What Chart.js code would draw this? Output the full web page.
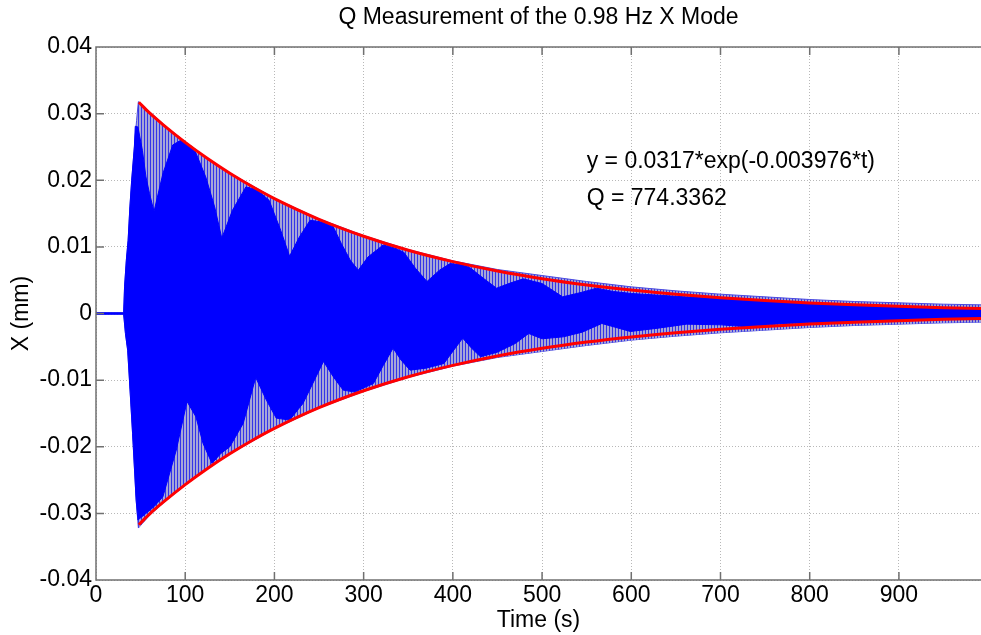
<!DOCTYPE html>
<html>
<head>
<meta charset="utf-8">
<title>Q Measurement of the 0.98 Hz X Mode</title>
<script src="https://cdn.jsdelivr.net/npm/chart.js@4.4.1/dist/chart.umd.min.js"></script>
<style>
    html, body { margin: 0; padding: 0; background: #fff; }
    #wrap { width: 981px; height: 635px; }
</style>
</head>
<body>
<div id="wrap"><canvas id="qChart" width="981" height="635"></canvas></div>
<script>
// axis ticks
const xTicks = [0, 100, 200, 300, 400, 500, 600, 700, 800, 900];
const yTicks = [-0.04, -0.03, -0.02, -0.01, 0, 0.01, 0.02, 0.03, 0.04];

// outer extent of the ring-down signal (tips of the oscillation)
const outerHiT = [0, 31, 32, 34, 36, 38, 40, 43, 45.5, 47.5, 60, 80, 100, 125, 150, 200, 250, 300, 350, 400, 450, 500, 550, 600, 650, 700, 750, 800, 850, 900, 950, 992];
const outerHiV = [0.0001, 0.0001, 0.004, 0.008, 0.011, 0.016, 0.020, 0.025, 0.029, 0.0318, 0.0303, 0.0279, 0.0258, 0.0233, 0.0211, 0.0173, 0.0142, 0.0117, 0.0096, 0.0079, 0.0066, 0.0057, 0.0048, 0.0040, 0.0034, 0.0029, 0.0025, 0.0021, 0.0018, 0.0016, 0.0014, 0.0013];
const outerLoT = [0, 31, 33, 35.5, 37.5, 41, 45, 47.5, 60, 80, 100, 125, 150, 200, 250, 300, 350, 400, 450, 500, 550, 600, 650, 700, 750, 800, 850, 900, 950, 992];
const outerLoV = [-0.0001, -0.0001, -0.003, -0.0055, -0.010, -0.018, -0.028, -0.0322, -0.0303, -0.0279, -0.0258, -0.0233, -0.0211, -0.0173, -0.0142, -0.0117, -0.0096, -0.0079, -0.0066, -0.0057, -0.0048, -0.0040, -0.0034, -0.0029, -0.0025, -0.0021, -0.0018, -0.0016, -0.0014, -0.0013];

// solid core of the signal (beat lobes)
const coreHiT = [0, 31, 32, 34, 36, 38, 40, 43, 44, 47, 52, 56, 60, 65, 75, 86, 95, 101, 112, 123, 133, 141, 153, 168, 180, 194, 207, 217, 228, 240, 255, 266, 275, 285, 294, 305, 322, 335, 345, 358, 371, 385, 397, 410, 419, 435, 449, 465, 479, 500, 523, 545, 561, 580, 600, 636, 660, 700, 750, 800, 850, 900, 950, 992];
const coreHiV = [0.0001, 0.0001, 0.004, 0.008, 0.011, 0.016, 0.020, 0.025, 0.0281, 0.028, 0.0245, 0.0205, 0.018, 0.0153, 0.021, 0.0253, 0.0260, 0.0257, 0.0241, 0.0205, 0.016, 0.0113, 0.0155, 0.019, 0.0186, 0.017, 0.0125, 0.0086, 0.0115, 0.014, 0.0137, 0.013, 0.0105, 0.008, 0.0065, 0.0085, 0.0103, 0.0098, 0.0092, 0.0068, 0.0048, 0.0065, 0.0075, 0.0073, 0.0069, 0.0052, 0.0038, 0.0046, 0.0052, 0.0045, 0.0025, 0.0032, 0.0038, 0.0033, 0.0030, 0.0027, 0.0025, 0.0022, 0.0018, 0.0015, 0.0013, 0.0011, 0.0009, 0.0008];
const coreLoT = [0, 31, 33, 35.5, 37.5, 41, 45, 47, 56, 65, 75, 90, 102, 112, 120, 130, 140, 150, 165, 179, 191, 202, 217, 232, 243, 255, 266, 277, 290, 311, 322, 333, 342, 352, 370, 390, 401, 411, 421, 431, 450, 470, 485, 500, 524, 545, 567, 599, 630, 662, 700, 730, 770, 800, 850, 900, 950, 992];
const coreLoV = [-0.0001, -0.0001, -0.003, -0.0055, -0.010, -0.018, -0.028, -0.031, -0.030, -0.029, -0.0275, -0.0205, -0.0132, -0.0155, -0.0195, -0.0225, -0.021, -0.020, -0.0165, -0.0096, -0.013, -0.0157, -0.016, -0.0135, -0.0105, -0.0072, -0.0095, -0.0115, -0.0118, -0.0105, -0.0078, -0.0052, -0.007, -0.0085, -0.0082, -0.0075, -0.0055, -0.0037, -0.0052, -0.0065, -0.0058, -0.0045, -0.003, -0.0038, -0.0035, -0.0028, -0.0015, -0.0027, -0.0022, -0.0016, -0.0017, -0.0020, -0.0015, -0.0014, -0.0012, -0.0010, -0.0009, -0.0008];

// exponential envelope fit (red)
const fitT = [48, 60, 75, 100, 125, 150, 175, 200, 250, 300, 350, 400, 450, 500, 550, 600, 650, 700, 750, 800, 850, 900, 950, 992];
const fitHi = [0.0317, 0.0301, 0.02836, 0.02568, 0.02325, 0.02105, 0.01906, 0.01725, 0.01414, 0.0116, 0.0095, 0.00779, 0.00638, 0.00523, 0.00429, 0.00352, 0.00288, 0.00236, 0.00194, 0.00159, 0.0013, 0.00107, 0.00087, 0.00074];
const fitLo = [-0.0317, -0.0301, -0.02836, -0.02568, -0.02325, -0.02105, -0.01906, -0.01725, -0.01414, -0.0116, -0.0095, -0.00779, -0.00638, -0.00523, -0.00429, -0.00352, -0.00288, -0.00236, -0.00194, -0.00159, -0.0013, -0.00107, -0.00087, -0.00074];

const titleText = 'Q Measurement of the 0.98 Hz X Mode';
const noteX = 550;
const noteY = [0.02275, 0.0172];
const noteLines = ['y = 0.0317*exp(-0.003976*t)', 'Q = 774.3362'];

const FONT = '"Liberation Sans", Arial, Helvetica, sans-serif';

function pts(ts, vs) {
    return ts.map((t, i) => ({ x: t, y: vs[i] }));
}

// vertical hatch for the thin oscillation tips
function makeStripes() {
    const c = document.createElement('canvas');
    c.width = 3;
    c.height = 1;
    const g = c.getContext('2d');
    g.fillStyle = '#a6a6d8';
    g.fillRect(0, 0, 3, 1);
    g.fillStyle = '#3434e8';
    g.fillRect(0, 0, 1, 1);
    return g.createPattern(c, 'repeat');
}

const framePlugin = {
    id: 'frame',
    afterDatasetsDraw(chart) {
        const { ctx, chartArea: a, scales: { x, y } } = chart;
        ctx.save();
        ctx.strokeStyle = '#707070';
        ctx.lineWidth = 1.5;
        ctx.beginPath();
        ctx.moveTo(a.right, a.top);
        ctx.lineTo(a.left, a.top);
        ctx.lineTo(a.left, a.bottom);
        ctx.lineTo(a.right, a.bottom);
        x.ticks.forEach(t => {
            const px = x.getPixelForValue(t.value);
            ctx.moveTo(px, a.bottom);
            ctx.lineTo(px, a.bottom - 8);
            ctx.moveTo(px, a.top);
            ctx.lineTo(px, a.top + 8);
        });
        y.ticks.forEach(t => {
            const py = y.getPixelForValue(t.value);
            ctx.moveTo(a.left, py);
            ctx.lineTo(a.left + 8, py);
        });
        ctx.stroke();
        ctx.restore();
    },
    afterDraw(chart) {
        const { ctx, chartArea: a, scales: { x, y } } = chart;
        ctx.save();
        ctx.fillStyle = '#000';
        ctx.font = '23px ' + FONT;
        ctx.textBaseline = 'middle';
        ctx.textAlign = 'center';
        ctx.fillText(titleText, (a.left + a.right) / 2, 18);
        ctx.textAlign = 'left';
        noteLines.forEach((s, i) => {
            ctx.fillText(s, x.getPixelForValue(noteX), y.getPixelForValue(noteY[i]));
        });
        ctx.restore();
    }
};

document.addEventListener('DOMContentLoaded', function() {
    const ctx = document.getElementById('qChart').getContext('2d');
    const stripes = makeStripes();

    new Chart(ctx, {
        type: 'line',
        data: {
            datasets: [
                {
                    data: pts(outerHiT, outerHiV),
                    borderColor: '#4a4ae0',
                    borderWidth: 1,
                    backgroundColor: stripes,
                    fill: '+1',
                    tension: 0,
                    order: 2
                },
                {
                    data: pts(outerLoT, outerLoV),
                    borderColor: '#4a4ae0',
                    borderWidth: 1,
                    fill: false,
                    tension: 0,
                    order: 2
                },
                {
                    data: pts(coreHiT, coreHiV),
                    borderColor: '#0000ff',
                    borderWidth: 1,
                    backgroundColor: '#0000ff',
                    fill: '+1',
                    tension: 0,
                    order: 1
                },
                {
                    data: pts(coreLoT, coreLoV),
                    borderColor: '#0000ff',
                    borderWidth: 1,
                    fill: false,
                    tension: 0,
                    order: 1
                },
                {
                    data: pts(fitT, fitHi),
                    borderColor: '#ff0000',
                    borderWidth: 3,
                    fill: false,
                    cubicInterpolationMode: 'monotone',
                    order: 0
                },
                {
                    data: pts(fitT, fitLo),
                    borderColor: '#ff0000',
                    borderWidth: 3,
                    fill: false,
                    cubicInterpolationMode: 'monotone',
                    order: 0
                }
            ]
        },
        options: {
            responsive: false,
            animation: false,
            events: [],
            elements: { point: { radius: 0 } },
            layout: { padding: { left: 0, right: 0, top: 47, bottom: 0 } },
            plugins: {
                legend: { display: false },
                tooltip: { enabled: false },
                title: { display: false }
            },
            scales: {
                x: {
                    type: 'linear',
                    min: 0,
                    max: 992,
                    afterFit: s => { s.height = 55; },
                    afterBuildTicks: s => { s.ticks = xTicks.map(v => ({ value: v })); },
                    ticks: {
                        maxRotation: 0,
                        autoSkip: false,
                        color: '#000',
                        padding: 2,
                        font: { family: FONT, size: 23 }
                    },
                    grid: { color: '#b8b8b8', lineWidth: 1, drawTicks: false },
                    border: { display: false, dash: [1, 2] },
                    title: {
                        display: true,
                        text: 'Time (s)',
                        color: '#000',
                        font: { family: FONT, size: 23 },
                        padding: { top: 0, bottom: 1 }
                    }
                },
                y: {
                    type: 'linear',
                    min: -0.04,
                    max: 0.04,
                    afterFit: s => { s.width = 96; },
                    afterBuildTicks: s => { s.ticks = yTicks.map(v => ({ value: v })); },
                    ticks: {
                        color: '#000',
                        padding: 4,
                        font: { family: FONT, size: 23 },
                        callback: v => Math.abs(v) < 1e-9 ? '0' : v.toFixed(2)
                    },
                    grid: { color: '#b8b8b8', lineWidth: 1, drawTicks: false },
                    border: { display: false, dash: [1, 2] },
                    title: {
                        display: true,
                        text: 'X (mm)',
                        color: '#000',
                        font: { family: FONT, size: 23 },
                        padding: { top: 8, bottom: 0 }
                    }
                }
            }
        },
        plugins: [framePlugin]
    });
});
</script>
</body>
</html>
